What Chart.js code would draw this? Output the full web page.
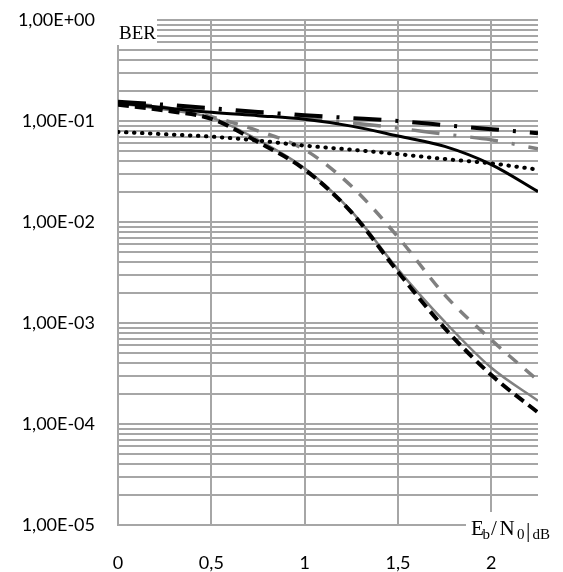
<!DOCTYPE html>
<html>
<head>
<meta charset="utf-8">
<script src="https://cdn.jsdelivr.net/npm/chart.js@4"></script>
<style>
  body { margin: 0; background: #fff; }
  #wrap { width: 563px; height: 572px; }
</style>
</head>
<body>
<div id="wrap"><canvas id="berChart" width="563" height="572"></canvas></div>
<script>
// Eb/N0 in dB
const ebn0 = [0, 0.25, 0.5, 0.75, 1, 1.25, 1.5, 1.75, 2, 2.25];

// BER curves
const solidBlack   = [0.151, 0.135, 0.122, 0.113, 0.104, 0.089, 0.071, 0.056, 0.037, 0.020];
const dashDotBlack = [0.155, 0.145, 0.134, 0.123, 0.114, 0.107, 0.100, 0.091, 0.083, 0.0755];
const dashDotGray  = [0.153, 0.140, 0.127, 0.117, 0.107, 0.096, 0.085, 0.074, 0.065, 0.053];
const dottedBlack  = [0.078, 0.074, 0.070, 0.064, 0.057, 0.052, 0.047, 0.042, 0.038, 0.033];
const dashedBlack  = [0.145, 0.127, 0.105, 0.062, 0.033, 0.0125, 0.0032, 0.00089, 0.000305, 0.00013];
const solidGray    = [0.150, 0.130, 0.108, 0.065, 0.034, 0.0128, 0.0034, 0.00103, 0.00036, 0.00017];
const dashedGray   = [0.152, 0.136, 0.110, 0.080, 0.052, 0.0227, 0.0071, 0.0019, 0.00068, 0.00027];

// axis ticks
const xTicks = [0, 0.5, 1, 1.5, 2];
const xTickLabels = ['0', '0,5', '1', '1,5', '2'];
const yMajorTicks = [1e-5, 1e-4, 1e-3, 1e-2, 1e-1, 1];
const yTickLabels = ['1,00E-05', '1,00E-04', '1,00E-03', '1,00E-02', '1,00E-01', '1,00E+00'];

const gridColor = '#a6a6a6';

function pts(values) {
    return values.map((v, i) => ({ x: ebn0[i], y: v }));
}

function curve(values, color, width, dash, cap) {
    return {
        data: pts(values),
        borderColor: color,
        borderWidth: width,
        borderDash: dash || [],
        borderCapStyle: cap || 'butt',
        borderJoinStyle: 'round',
        pointRadius: 0,
        fill: false,
        cubicInterpolationMode: 'monotone'
    };
}

// minor log grid: 1..9 x each decade
function logGridValues() {
    const out = [];
    for (let e = -5; e < 0; e++) {
        for (let m = 1; m <= 9; m++) out.push(m * Math.pow(10, e));
    }
    out.push(1);
    return out;
}

const labelsPlugin = {
    id: 'berLabels',
    afterDraw(chart) {
        const ctx = chart.ctx;
        ctx.save();
        ctx.textBaseline = 'alphabetic';
        // BER box
        ctx.fillStyle = '#fff';
        ctx.fillRect(116, 17, 41, 28);
        ctx.fillStyle = '#000';
        ctx.font = '19px "Liberation Serif"';
        ctx.fillText('BER', 119, 38.5);

        // Eb/N0|dB box
        ctx.fillStyle = '#fff';
        ctx.fillRect(466, 512, 97, 34);
        ctx.fillStyle = '#000';
        const main = '21px "Liberation Serif"';
        const sub = '15px "Liberation Serif"';
        const parts = [
            ['E', main, 471, 535], ['b', sub, 482.5, 538.5], ['/', main, 491, 535],
            ['N', main, 499.5, 535], ['0', sub, 517, 538.5], ['|', '22px "Liberation Serif"', 526, 537],
            ['dB', sub, 532.5, 538.5]
        ];
        parts.forEach(p => {
            ctx.font = p[1];
            ctx.fillText(p[0], p[2], p[3]);
        });
        ctx.restore();
    }
};

const ctx = document.getElementById('berChart');
new Chart(ctx, {
    type: 'line',
    data: {
        datasets: [
            curve(dashDotBlack, '#000', 4, [28, 14, 3, 14]),
            curve(solidBlack, '#000', 3),
            curve(dottedBlack, '#000', 4, [0.5, 7.5], 'round'),
            curve(dashedBlack, '#000', 4, [11, 6]),
            curve(dashDotGray, '#808080', 3.5, [28, 14, 3, 14]),
            curve(solidGray, '#808080', 2.5),
            curve(dashedGray, '#808080', 3.5, [12, 10])
        ]
    },
    options: {
        responsive: false,
        animation: false,
        layout: { padding: { top: 20, right: 25, left: 0, bottom: 0 } },
        plugins: {
            legend: { display: false },
            tooltip: { enabled: false }
        },
        scales: {
            x: {
                type: 'linear',
                min: 0,
                max: 2.25,
                afterBuildTicks: scale => { scale.ticks = xTicks.map(v => ({ value: v })); },
                afterFit: scale => {
                    scale.height = 47;
                    scale.paddingLeft = 0;
                    scale.paddingRight = 0;
                },
                ticks: {
                    autoSkip: false,
                    maxRotation: 0,
                    padding: 27,
                    color: '#000',
                    font: { family: 'Lato', size: 18 },
                    callback: v => {
                        const i = xTicks.indexOf(v);
                        return i >= 0 ? xTickLabels[i] : '';
                    }
                },
                grid: { color: gridColor, lineWidth: 2, drawTicks: false },
                border: { color: gridColor, width: 2 }
            },
            y: {
                type: 'logarithmic',
                min: 1e-5,
                max: 1,
                afterBuildTicks: scale => { scale.ticks = logGridValues().map(v => ({ value: v })); },
                afterFit: scale => {
                    scale.width = 118;
                    scale.paddingTop = 0;
                    scale.paddingBottom = 0;
                },
                ticks: {
                    autoSkip: false,
                    padding: 23,
                    color: '#000',
                    font: { family: 'Lato', size: 18 },
                    callback: v => {
                        for (let i = 0; i < yMajorTicks.length; i++) {
                            if (Math.abs(v - yMajorTicks[i]) / yMajorTicks[i] < 1e-6) return yTickLabels[i];
                        }
                        return '';
                    }
                },
                grid: { color: gridColor, lineWidth: 2, drawTicks: false },
                border: { color: gridColor, width: 2 }
            }
        }
    },
    plugins: [labelsPlugin]
});
</script>
</body>
</html>
